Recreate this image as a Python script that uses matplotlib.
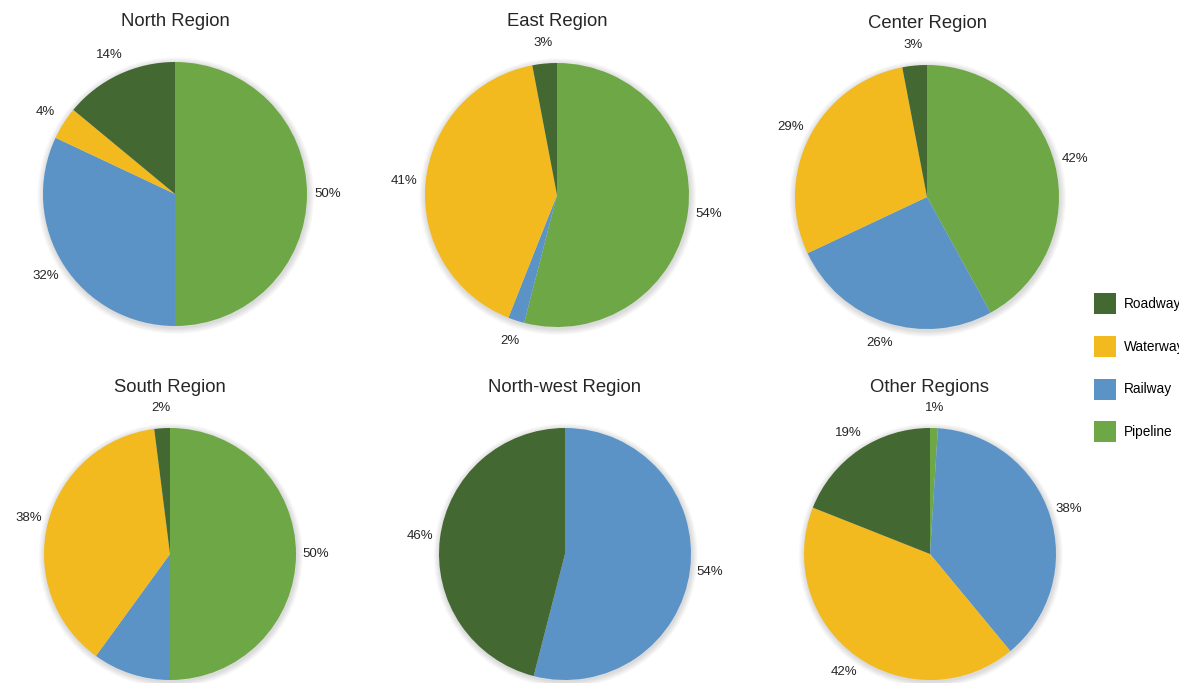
import numpy as np
import matplotlib.pyplot as plt
from matplotlib.patches import Circle, Patch

plt.rcParams['font.family'] = ['Liberation Sans', 'DejaVu Sans']

modes = ['Roadway', 'Waterway', 'Railway', 'Pipeline']
colors = {'Roadway': '#436831', 'Waterway': '#F2BA1E',
          'Railway': '#5B93C7', 'Pipeline': '#6EA846'}

# drawing order in each pie (clockwise from 12 o'clock)
order = ['Pipeline', 'Railway', 'Waterway', 'Roadway']

regions = ['North Region', 'East Region', 'Center Region',
           'South Region', 'North-west Region', 'Other Regions']
pipeline = [50, 54, 42, 50, 0, 1]
railway = [32, 2, 26, 10, 54, 38]
waterway = [4, 41, 29, 38, 0, 42]
roadway = [14, 3, 3, 2, 46, 19]

W, H = 1179, 683
# pie centres / radii in pixels (from top-left)
centers = [(175, 194, 132), (557, 195, 132), (927, 197, 132),
           (170, 554, 126), (565, 554, 126), (930, 554, 126)]

fig = plt.figure(figsize=(W / 100, H / 100), dpi=100)

lim = 1.45
for i, name in enumerate(regions):
    cx, cy, r = centers[i]
    half = r * lim
    ax = fig.add_axes([(cx - half) / W, 1 - (cy + half) / H, 2 * half / W, 2 * half / H])

    vals = {'Pipeline': pipeline[i], 'Railway': railway[i],
            'Waterway': waterway[i], 'Roadway': roadway[i]}
    keys = [k for k in order if vals[k] > 0]
    sizes = [vals[k] for k in keys]

    # soft shadow
    for k in range(6):
        ax.add_patch(Circle((0.006, -0.012), 1.0 + 0.008 * (k + 1), color='black',
                            alpha=0.025, lw=0, zorder=0))

    wedges, _ = ax.pie(sizes, colors=[colors[k] for k in keys], startangle=90,
                       counterclock=False, radius=1.0,
                       wedgeprops=dict(linewidth=0))
    for w in wedges:
        w.set_zorder(2)

    # pie() resets the limits, so fix them afterwards
    ax.set_xlim(-lim, lim)
    ax.set_ylim(-lim, lim)
    ax.set_aspect('equal')
    ax.axis('off')

    for w, v in zip(wedges, sizes):
        ang = np.deg2rad((w.theta1 + w.theta2) / 2)
        ax.text(1.16 * np.cos(ang), 1.16 * np.sin(ang), f'{v}%',
                ha='center', va='center', fontsize=9.5, color='#262626',
                clip_on=False)

    ax.text(0, 1.0 + 41 / r, name, ha='center', va='center',
            fontsize=13.3, color='#262626', clip_on=False)

handles = [Patch(facecolor=colors[m], edgecolor='none') for m in modes]
fig.legend(handles, modes, loc='upper left',
           bbox_to_anchor=(1083 / W, 1 - 282 / H), frameon=False,
           fontsize=9.8, handlelength=1.65, handleheight=2.0,
           labelspacing=1.6, handletextpad=0.55, borderpad=0.3)

fig.savefig('out.png', dpi=100)
